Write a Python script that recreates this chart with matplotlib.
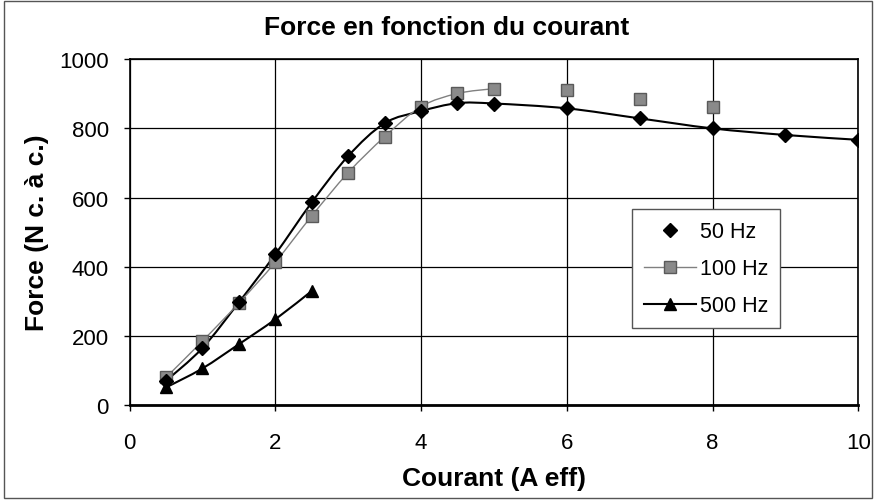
import numpy as np
import matplotlib.pyplot as plt
from matplotlib.path import Path
from matplotlib.patches import PathPatch, Rectangle
from matplotlib.lines import Line2D

plt.rcParams['font.family'] = ['Liberation Sans', 'DejaVu Sans']

# données
I_50 = [0.5, 1, 1.5, 2, 2.5, 3, 3.5, 4, 4.5, 5, 6, 7, 8, 9, 10]
F_50 = [70, 165, 297, 436, 586, 720, 815, 850, 873, 872, 858, 829, 800, 781, 767]

I_100 = [0.5, 1, 1.5, 2, 2.5, 3, 3.5, 4, 4.5, 5]
F_100 = [80, 185, 295, 413, 547, 672, 776, 863, 901, 915]
I_100_iso = [6, 7, 8]
F_100_iso = [910, 886, 863]

I_500 = [0.5, 1, 1.5, 2, 2.5]
F_500 = [51, 106, 176, 248, 330]

xticks = [0, 2, 4, 6, 8, 10]
yticks = [0, 200, 400, 600, 800, 1000]


def courbe_lisse(ax, x, y, **kw):
    # courbe lissée façon Excel (Bézier cubique de Catmull-Rom)
    x = np.asarray(x, float)
    y = np.asarray(y, float)
    pts = np.column_stack([x, y])
    verts = [pts[0]]
    codes = [Path.MOVETO]
    n = len(pts)
    for i in range(n - 1):
        p0 = pts[max(i - 1, 0)]
        p1 = pts[i]
        p2 = pts[i + 1]
        p3 = pts[min(i + 2, n - 1)]
        c1 = p1 + (p2 - p0) / 6.0
        c2 = p2 - (p3 - p1) / 6.0
        verts += [c1, c2, p2]
        codes += [Path.CURVE4] * 3
    ax.add_patch(PathPatch(Path(verts, codes), fill=False, **kw))


fig = plt.figure(figsize=(8.75, 5.02), dpi=100)
fig.patches.append(Rectangle((0.005, 0.006), 0.992, 0.99, transform=fig.transFigure,
                             fill=False, edgecolor='#555555', linewidth=1.0))
ax = fig.add_axes([0.148, 0.191, 0.833, 0.689])

courbe_lisse(ax, I_50, F_50, edgecolor='black', linewidth=1.5, zorder=3)
courbe_lisse(ax, I_100, F_100, edgecolor='#808080', linewidth=1.0, zorder=3)
courbe_lisse(ax, I_500, F_500, edgecolor='black', linewidth=1.5, zorder=3)

ax.plot(I_50, F_50, linestyle='none', marker='D', markersize=7.5, color='black', zorder=5)
ax.plot(I_100 + I_100_iso, F_100 + F_100_iso, linestyle='none', marker='s', markersize=8,
        markerfacecolor='#8a8a8a', markeredgecolor='#5a5a5a', zorder=4)
ax.plot(I_500, F_500, linestyle='none', marker='^', markersize=9, color='black', zorder=5)

ax.set_xlim(0, 10)
ax.set_ylim(0, 1000)
ax.set_xticks(xticks)
ax.set_yticks(yticks)
ax.grid(True, color='black', linewidth=0.9)
ax.set_axisbelow(True)
for s in ax.spines.values():
    s.set_linewidth(1.2)
ax.spines['bottom'].set_linewidth(2.0)
ax.tick_params(labelsize=16, direction='out', length=4, width=1)
ax.tick_params(axis='x', pad=15)
ax.tick_params(axis='y', pad=11)

fig.text(447 / 875, 1 - 28 / 502, 'Force en fonction du courant', fontsize=19,
         fontweight='bold', ha='center', va='center')
ax.set_xlabel('Courant (A eff)', fontsize=19, fontweight='bold')
ax.set_ylabel('Force (N c. à c.)', fontsize=19, fontweight='bold')
ax.xaxis.set_label_coords(0.5, -0.175)
ax.yaxis.set_label_coords(-0.11, 0.5)

handles = [
    Line2D([], [], linestyle='none', marker='D', markersize=7.5, color='black'),
    Line2D([], [], color='#808080', linewidth=1.0, marker='s', markersize=8,
           markerfacecolor='#8a8a8a', markeredgecolor='#5a5a5a'),
    Line2D([], [], color='black', linewidth=1.5, marker='^', markersize=9),
]
leg = ax.legend(handles, ['50 Hz', '100 Hz', '500 Hz'], loc='upper left',
                bbox_to_anchor=(0.69, 0.566), fontsize=15.5, frameon=True, fancybox=False,
                edgecolor='#555555', framealpha=1, handlelength=2.4, labelspacing=0.75,
                borderpad=0.55, handletextpad=0.2, borderaxespad=0)
leg.get_frame().set_linewidth(1.0)

fig.savefig('out.png', dpi=100)
